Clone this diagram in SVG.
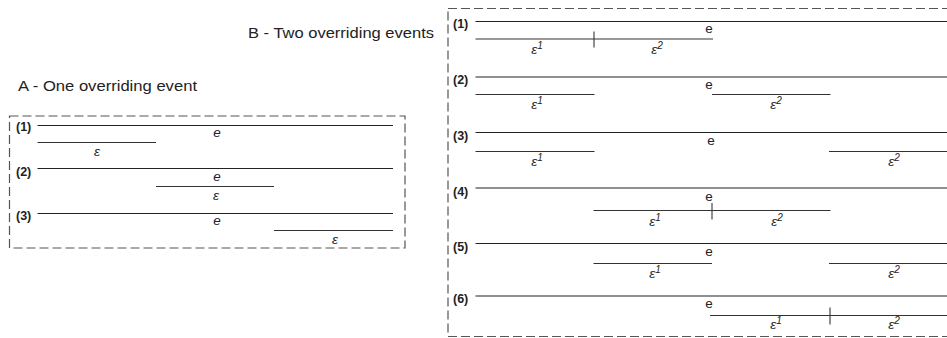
<svg xmlns="http://www.w3.org/2000/svg" width="947" height="338" viewBox="0 0 947 338">
<style>
text{font-family:"Liberation Sans",Arial,sans-serif;fill:#222}
.title{font-size:15px}
.num{font-size:12.5px;font-weight:bold}
.e{font-size:13.5px;text-anchor:middle}
.ei{font-size:13.5px;text-anchor:middle;font-style:italic}
.eps{font-size:13.5px;font-style:italic;text-anchor:middle}
.sup{font-size:10px}
.box{fill:none;stroke:#555;stroke-width:1.2;stroke-dasharray:9 4}
.ln{stroke:#222;stroke-width:1.2}
.sl{stroke:#333;stroke-width:1.1}
</style>
<rect width="947" height="338" fill="#fff"/>
<g id="panelA">
<text class="title" x="18" y="91" textLength="179" lengthAdjust="spacingAndGlyphs">A - One overriding event</text>
<rect class="box" x="9.5" y="116" width="395.5" height="132"/>
<g id="A1">
<text class="num" x="16" y="131">(1)</text>
<line class="ln" x1="37.5" y1="125.5" x2="393" y2="125.5"/>
<text class="ei" x="217" y="137">e</text>
<line class="sl" x1="37.5" y1="142.5" x2="156" y2="142.5"/>
<text class="eps" x="97" y="155.5">ε</text>
</g>
<g id="A2">
<text class="num" x="16" y="176">(2)</text>
<line class="ln" x1="37.5" y1="168.5" x2="393" y2="168.5"/>
<text class="ei" x="217" y="181">e</text>
<line class="sl" x1="156" y1="186.5" x2="274" y2="186.5"/>
<text class="eps" x="216" y="199.5">ε</text>
</g>
<g id="A3">
<text class="num" x="16" y="220">(3)</text>
<line class="ln" x1="37.5" y1="213.5" x2="393" y2="213.5"/>
<text class="ei" x="217" y="224.5">e</text>
<line class="sl" x1="274" y1="230.5" x2="393" y2="230.5"/>
<text class="eps" x="335" y="243.5">ε</text>
</g>
</g>
<g id="panelB">
<text class="title" x="248" y="38" textLength="186" lengthAdjust="spacingAndGlyphs">B - Two overriding events</text>
<rect class="box" x="448" y="8.5" width="510" height="328"/>
<g id="B1">
<text class="num" x="453" y="27.5">(1)</text>
<line class="ln" x1="475.5" y1="21.5" x2="947" y2="21.5"/>
<text class="e" x="709" y="33">e</text>
<line class="sl" x1="475.5" y1="39" x2="713" y2="39"/>
<line class="sl" x1="594" y1="31.5" x2="594" y2="47.5"/>
<text class="eps" x="537" y="53.5">ε<tspan class="sup" dy="-5">1</tspan></text>
<text class="eps" x="657" y="53.5">ε<tspan class="sup" dy="-5">2</tspan></text>
</g>
<g id="B2">
<text class="num" x="453" y="83.5">(2)</text>
<line class="ln" x1="475.5" y1="77" x2="947" y2="77"/>
<text class="e" x="709" y="89">e</text>
<line class="sl" x1="475.5" y1="94.5" x2="594.5" y2="94.5"/>
<line class="sl" x1="712" y1="94.5" x2="830.5" y2="94.5"/>
<text class="eps" x="537" y="109">ε<tspan class="sup" dy="-5">1</tspan></text>
<text class="eps" x="776" y="109">ε<tspan class="sup" dy="-5">2</tspan></text>
</g>
<g id="B3">
<text class="num" x="453" y="139.5">(3)</text>
<line class="ln" x1="475.5" y1="132.5" x2="947" y2="132.5"/>
<text class="e" x="711" y="144.5">e</text>
<line class="sl" x1="475.5" y1="151.5" x2="594.5" y2="151.5"/>
<line class="sl" x1="829" y1="151.5" x2="947" y2="151.5"/>
<text class="eps" x="537" y="165.5">ε<tspan class="sup" dy="-5">1</tspan></text>
<text class="eps" x="894" y="165.5">ε<tspan class="sup" dy="-5">2</tspan></text>
</g>
<g id="B4">
<text class="num" x="453" y="195.5">(4)</text>
<line class="ln" x1="475.5" y1="188" x2="947" y2="188"/>
<text class="e" x="709" y="200.5">e</text>
<line class="sl" x1="593.5" y1="210.5" x2="830.5" y2="210.5"/>
<line class="sl" x1="712" y1="203" x2="712" y2="219.5"/>
<text class="eps" x="655" y="226">ε<tspan class="sup" dy="-5">1</tspan></text>
<text class="eps" x="777" y="226">ε<tspan class="sup" dy="-5">2</tspan></text>
</g>
<g id="B5">
<text class="num" x="453" y="250.5">(5)</text>
<line class="ln" x1="475.5" y1="243.5" x2="947" y2="243.5"/>
<text class="e" x="709" y="256">e</text>
<line class="sl" x1="593.5" y1="263.5" x2="712" y2="263.5"/>
<line class="sl" x1="829" y1="263.5" x2="947" y2="263.5"/>
<text class="eps" x="655" y="277.5">ε<tspan class="sup" dy="-5">1</tspan></text>
<text class="eps" x="894" y="277.5">ε<tspan class="sup" dy="-5">2</tspan></text>
</g>
<g id="B6">
<text class="num" x="453" y="302.5">(6)</text>
<line class="ln" x1="475.5" y1="296" x2="947" y2="296"/>
<text class="e" x="709" y="308">e</text>
<line class="sl" x1="710" y1="315.5" x2="947" y2="315.5"/>
<line class="sl" x1="830" y1="307.5" x2="830" y2="324.5"/>
<text class="eps" x="776" y="328.5">ε<tspan class="sup" dy="-5">1</tspan></text>
<text class="eps" x="894" y="328.5">ε<tspan class="sup" dy="-5">2</tspan></text>
</g>
</g>
<g id="connectors"/>
</svg>
